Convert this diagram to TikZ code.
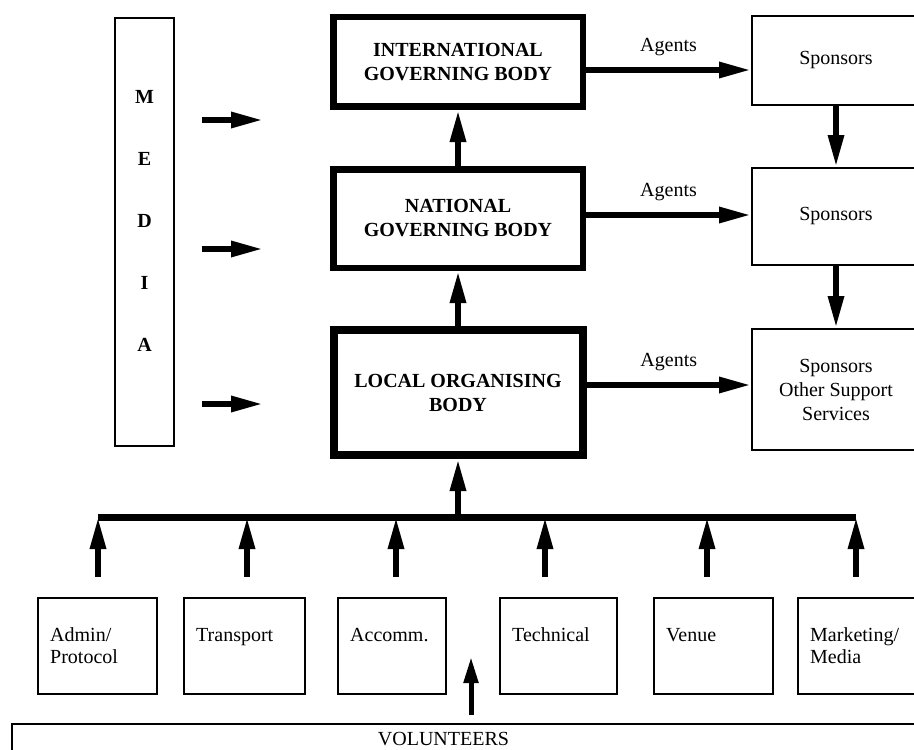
\documentclass[tikz,border=0pt]{standalone}
\usepackage{fontspec}
\setmainfont{Liberation Serif}
\usetikzlibrary{arrows.meta,positioning,calc}

\begin{document}
\begin{tikzpicture}[x=0.5pt,y=-0.5pt,
  govbox/.style={draw,line width=3.25pt,font=\bfseries,align=center,minimum width=124.75pt},
  spbox/.style={draw,line width=1pt,align=center,minimum width=84pt},
  dept/.style={draw,line width=1.2pt,align=left,inner xsep=6pt,text width=#1,minimum height=47.8pt,font=\fontsize{10}{11}\selectfont},
  arr/.style={line width=3pt,-{Triangle[length=16pt,width=7.5pt]}},
  busline/.style={line width=3.5pt}]
\useasboundingbox (0,0) rectangle (914,749);
\fill[white] (0,0) rectangle (914,749);
\clip (0,0) rectangle (914,749);

% media column
\node[draw,line width=1pt,minimum width=29.5pt,minimum height=214pt] (media) at (144.5,232) {};
\node[font=\bfseries,align=center] (mtxt) at (144.5,221) {M\\[19pt]E\\[19pt]D\\[19pt]I\\[19pt]A};
\coordinate (m1) at (202,120);
\coordinate (m2) at (202,249);
\coordinate (m3) at (202,404);
\foreach \m in {m1,m2,m3}
  \draw[arr] (\m) -- ++(61,0);

% governing bodies
\node[govbox,minimum height=44.75pt] (intl) at (458,62) {INTERNATIONAL\\GOVERNING BODY};
\node[govbox,minimum height=49.25pt] (natl) at (458,218.5) {NATIONAL\\GOVERNING BODY};
\node[govbox,line width=4pt,minimum width=124.5pt,minimum height=62.5pt] (local) at (458,392.5) {LOCAL ORGANISING\\BODY};

% sponsors
\node[spbox,minimum height=44.5pt] (sp1) at (836,60.5) {Sponsors};
\node[spbox,minimum height=48.5pt] (sp2) at (836,216.5) {Sponsors};
\node[spbox,minimum height=60.5pt] (sp3) at (836,389.5) {Sponsors\\Other Support\\Services};

\draw[arr] (natl) -- (intl);
\draw[arr] (local) -- (natl);
\draw[arr] (sp1) -- (sp2);
\draw[arr] (sp2) -- (sp3);

\draw[arr] ([yshift=-4pt]intl.east) -- ([yshift=-4pt]intl.east -| sp1.west) node[midway,above=2.5pt]{Agents};
\draw[arr] ([yshift=1.75pt]natl.east) -- ([yshift=1.75pt]natl.east -| sp2.west) node[midway,above=2.5pt]{Agents};
\draw[arr] ([yshift=3.75pt]local.east) -- ([yshift=3.75pt]local.east -| sp3.west) node[midway,above=2.5pt]{Agents};

% functional areas
\coordinate (busL) at (98,517);
\coordinate (busR) at (856,517);
\draw[busline] (busL) -- (busR);
\draw[arr] (local.south |- busL) -- (local.south);

\node[dept=47.3pt] (adm) at (97.5,646) {Admin/\\Protocol};
\node[dept=48.3pt] (trn) at (244.5,646) {Transport\\\mbox{}};
\node[dept=41.8pt] (acc) at (392,646) {Accomm.\\\mbox{}};
\node[dept=46.3pt] (tec) at (558.5,646) {Technical\\\mbox{}};
\node[dept=47.3pt] (ven) at (713.5,646) {Venue\\\mbox{}};
\node[dept=53.3pt] (mkt) at (863.5,646) {Marketing/\\Media};

\foreach \n/\d in {adm/0.5,trn/2.5,acc/4,tec/-13.5,ven/-6.5,mkt/-7.5}
  \draw[arr] ([xshift=\d*0.5pt,yshift=10pt]\n.north) -- ([xshift=\d*0.5pt]\n.north |- busL);

% volunteers
\node[draw,line width=1pt,minimum width=459pt,minimum height=15.5pt,inner sep=0pt,
  label={[xshift=-13.75pt]center:VOLUNTEERS}] (vol) at (471,739.5) {};
\draw[line width=2.5pt,-{Triangle[length=13pt,width=7pt]}] ([yshift=4pt]vol.north) -- ++(0,-58);
\end{tikzpicture}
\end{document}
